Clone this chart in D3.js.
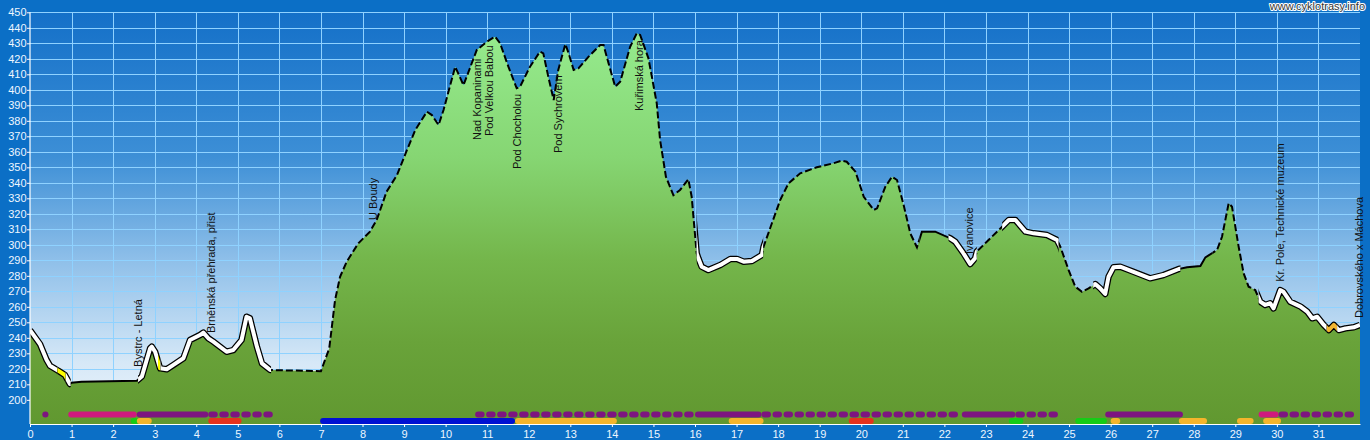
<!DOCTYPE html>
<html><head><meta charset="utf-8">
<script src="https://cdn.jsdelivr.net/npm/d3@7"></script>
<style>
html,body{margin:0;padding:0;background:#0b6fc6;}
svg{display:block;}
</style></head>
<body><svg id="c" width="1370" height="440"></svg>
<script>
// ---- data ----
const km = [0,0.24,0.4,0.48,0.68,0.84,0.96,1.0,1.24,2.57,2.69,2.89,2.93,3.01,3.13,3.29,3.45,3.69,3.85,4.09,4.17,4.29,4.41,4.73,4.89,5.09,5.21,5.29,5.46,5.58,5.78,7.0,7.2,7.34,7.46,7.62,7.9,8.18,8.34,8.58,8.83,9.07,9.27,9.55,9.67,9.83,9.95,10.23,10.43,10.75,10.99,11.19,11.31,11.51,11.71,11.79,12.03,12.27,12.35,12.47,12.6,12.71,12.88,12.96,13.08,13.2,13.44,13.72,13.8,13.92,14.08,14.2,14.44,14.6,14.68,14.88,15.08,15.16,15.3,15.48,15.64,15.84,15.92,16.04,16.08,16.16,16.32,16.61,16.85,17.01,17.17,17.37,17.61,17.65,17.85,18.05,18.25,18.53,18.93,19.33,19.53,19.65,19.86,20.06,20.3,20.38,20.58,20.74,20.86,21.02,21.18,21.34,21.46,21.78,22.14,22.26,22.46,22.62,22.74,22.78,23.02,23.39,23.55,23.71,23.95,24.15,24.47,24.71,24.79,24.99,25.15,25.31,25.47,25.63,25.75,25.87,25.95,26.07,26.23,26.55,26.95,27.27,27.64,27.84,28.16,28.28,28.56,28.68,28.84,28.92,29.08,29.2,29.32,29.48,29.6,29.72,29.84,29.92,30.08,30.16,30.32,30.57,30.73,30.85,30.97,31.13,31.25,31.37,31.49,31.65,31.85,32.0];
const elevation = [245,236,225.7,222,218.8,216,210.2,211,211.7,212.3,215,233.2,234.3,231,220.3,219.7,222.5,226.8,238.6,241.8,243.3,239.7,237.5,231,232.1,238.6,253.6,252.6,234.3,223.5,219.2,218.5,233.2,264.4,279.4,289.1,301,308.5,316,334.3,345,361.2,374.1,385.9,383.7,377.3,387,414.9,403,425.7,431,434.3,430,414.9,401,402,414.9,424.6,423.5,408.5,393.4,412.8,429.5,423.5,412.8,413.9,421.4,428.9,428.9,417.1,402,405.2,427.8,436.5,435.4,420.3,391.3,367.6,344,332,335.4,342.3,331,294.5,291.3,285.9,283.7,287,290.9,290.9,289.1,289.6,293.4,298.8,313.9,328.9,339.7,346.1,350,352.6,354.3,353.6,347.2,331,322.5,323.5,337.5,343.9,341.8,325.7,307.4,298.4,308.5,308.5,304.2,302,294.5,287.6,291.3,295.6,302,311.7,316,316,308.5,307.4,306.3,303.1,298.8,283.7,273,269.7,271.9,274.7,271.9,268.3,279.4,285.5,285.9,282.6,278.4,280.5,284.4,285.5,286.3,291.9,296.6,305.2,326.8,324.6,298.8,281.6,273,270.8,263.3,261.2,262.3,259,270.8,269.7,263.3,260.1,256.9,252.6,253.6,248.3,245,248.3,245,246.1,246.8,248.3];

// line style segments along the profile: [from km, to km, kind]
const lineFrom = [0,0.66,0.86,0.98,2.6,3.08,3.14,5.8,16.04,17.64,21.4,22.1,22.78,23.39,24.75,25.58,27.68,28.45,29.56,31.2,31.45];
const lineTo   = [0.66,0.86,0.98,2.6,3.08,3.14,5.8,16.04,17.64,21.4,22.1,22.78,23.39,24.75,25.58,27.68,28.45,29.56,31.2,31.45,32];
const lineKind = ["white","yellow","white","solid","white","yellow","white","dash","white","dash","solid","white","dash","white","dash","white","solid","dash","white","orange","white"];

// surface bars, row 1
const bar1From = [0.3,0.92,2.57,4.29,10.71,16.0,17.6,22.42,23.71,25.87,29.56,30.04];
const bar1To   = [0.44,2.57,4.29,5.86,16.0,17.6,22.42,23.71,24.75,27.74,30.04,32.0];
const bar1Kind = ["dot","magenta","purple","dot","dot","purple","dot","purple","dot","purple","magenta","dot"];
// surface bars, row 2
const bar2From = [2.47,2.57,4.29,6.98,11.67,16.81,19.7,23.55,25.15,26.0,27.64,29.04,29.67];
const bar2To   = [2.57,2.93,5.09,11.67,14.12,17.65,20.3,23.9,25.91,26.23,28.32,29.44,30.1];
const bar2Kind = ["green","orange","red","blue","orange","orange","red","green","green","orange","orange","orange","orange"];

// place names
const placeNames = ["Bystrc - Letná","Brněnská přehrada, přist","U Boudy","Nad Kopaninami","Pod Velkou Babou","Pod Chocholou","Pod Sychrovem","Kuřimská hora","Ivanovice","Kr. Pole, Technické muzeum","Dobrovského x Máchova"];
const placeKm = [2.70,4.45,8.35,10.85,11.14,11.82,12.8,14.75,22.70,30.16,32.08];
const placeElev = [221.2,243.1,316,367.6,370.2,348.9,359.2,386.3,294.1,276.1,252.8];

const xTicks = d3.range(0,32,1);
const yTicks = d3.range(200,451,10);
const watermark = "www.cyklotrasy.info";

// ---- drawing ----
const svg = d3.select("#c");
const X0=30, X1=1360, Y0=12.3, Y1=424;
const x = d3.scaleLinear().domain([0,32]).range([X0,X1]);
const y = d3.scaleLinear().domain([184.4,450]).range([Y1,Y0]);

const defs = svg.append("defs");
const sky = defs.append("linearGradient").attr("id","sky").attr("gradientUnits","userSpaceOnUse")
  .attr("x1",0).attr("x2",0).attr("y1",Y0).attr("y2",Y1);
[[0,"#1470c8"],[0.35,"#3d8fd6"],[0.6,"#8ebfe9"],[0.85,"#d6e8f7"],[1,"#f0f6fc"]].forEach(s=>sky.append("stop").attr("offset",s[0]).attr("stop-color",s[1]));
const grass = defs.append("linearGradient").attr("id","grass").attr("gradientUnits","userSpaceOnUse")
  .attr("x1",0).attr("x2",0).attr("y1",Y0).attr("y2",Y1);
[[0,"#98ee92"],[0.35,"#86d673"],[0.6,"#74b64b"],[0.8,"#69a33a"],[1,"#619830"]].forEach(s=>grass.append("stop").attr("offset",s[0]).attr("stop-color",s[1]));

defs.append("clipPath").attr("id","plotclip").append("rect")
  .attr("x",X0).attr("y",Y0-4).attr("width",X1-X0).attr("height",Y1-Y0+4);

svg.append("rect").attr("x",X0).attr("y",Y0).attr("width",X1-X0).attr("height",Y1-Y0).attr("fill","url(#sky)");

// grid
const grid = svg.append("g").attr("stroke","#8fd2ff").attr("stroke-width",1);
grid.selectAll("line.h").data(yTicks).join("line").attr("class","h")
  .attr("x1",X0).attr("x2",X1).attr("y1",d=>Math.round(y(d))+0.5).attr("y2",d=>Math.round(y(d))+0.5);
grid.selectAll("line.v").data(xTicks.filter(d=>d>0)).join("line").attr("class","v")
  .attr("y1",Y0).attr("y2",Y1).attr("x1",d=>Math.round(x(d))+0.5).attr("x2",d=>Math.round(x(d))+0.5);

const pts = km.map((k,i)=>[k,elevation[i]]);
const area = d3.area().x(d=>x(d[0])).y0(Y1).y1(d=>y(d[1]));
const line = d3.line().x(d=>x(d[0])).y(d=>y(d[1]));

svg.append("path").datum(pts).attr("d",area).attr("fill","url(#grass)");

// profile line segments
const lineG = svg.append("g").attr("clip-path","url(#plotclip)");
lineFrom.forEach((f,i)=>{
  const id="seg"+i;
  defs.append("clipPath").attr("id",id).append("rect")
    .attr("x",x(f)).attr("width",x(lineTo[i])-x(f)).attr("y",0).attr("height",440);
  const g = lineG.append("g").attr("clip-path",`url(#${id})`);
  const k = lineKind[i];
  if(k==="dash"){
    g.append("path").datum(pts).attr("d",line).attr("fill","none").attr("stroke","#000")
      .attr("stroke-width",2).attr("stroke-dasharray","7,3");
  } else if(k==="solid"){
    g.append("path").datum(pts).attr("d",line).attr("fill","none").attr("stroke","#000").attr("stroke-width",2);
  } else {
    const core = k==="white"?"#ffffff":(k==="yellow"?"#ffff00":"#f2b531");
    g.append("path").datum(pts).attr("d",line).attr("fill","none").attr("stroke","#000")
      .attr("stroke-width",6.5).attr("stroke-linejoin","round");
    g.append("path").datum(pts).attr("d",line).attr("fill","none").attr("stroke",core)
      .attr("stroke-width",4).attr("stroke-linejoin","round");
  }
});

// surface bars
const barColor = {purple:"#7d1580",dot:"#7d1580",magenta:"#cf1a7d",green:"#16cc16",orange:"#f4b52c",red:"#e6321c",blue:"#0010d2"};
function drawBars(from,to,kind,yy){
  const g = svg.append("g");
  from.forEach((f,i)=>{
    const k = kind[i];
    const l = g.append("line").attr("x1",x(f)+3).attr("x2",x(to[i])-3).attr("y1",yy).attr("y2",yy)
      .attr("stroke",barColor[k]).attr("stroke-width",6).attr("stroke-linecap","round");
    if(k==="dot") l.attr("stroke-dasharray","3.5,7.5");
  });
}
drawBars(bar1From,bar1To,bar1Kind,414.5);
drawBars(bar2From,bar2To,bar2Kind,421);

// axes
const ax = svg.append("g").attr("transform",`translate(0,${Y1})`)
  .call(d3.axisBottom(x).tickValues(xTicks).tickSize(3).tickSizeOuter(0).tickPadding(3).tickFormat(d3.format("d")));
const ay = svg.append("g").attr("transform",`translate(${X0},0)`)
  .call(d3.axisLeft(y).tickValues(yTicks).tickSize(3).tickSizeOuter(0).tickPadding(0.5).tickFormat(d3.format("d")));
[ax,ay].forEach(a=>{
  a.select(".domain").attr("stroke","#ffffff").attr("stroke-width",1.2);
  a.selectAll(".tick line").attr("stroke","#ffffff");
  a.selectAll(".tick text").attr("fill","#eef6ff").attr("font-family","'Liberation Sans', Arial, sans-serif").attr("font-size","11px");
});
ay.select(".domain").attr("d",`M0,${Y0}V${Y1}`);

// place labels
svg.append("g").selectAll("text").data(placeNames).join("text")
  .attr("transform",(d,i)=>`translate(${x(placeKm[i])},${y(placeElev[i])}) rotate(-90)`)
  .attr("font-family","'Liberation Sans', Arial, sans-serif").attr("font-size","11px")
  .attr("fill","#111").text(d=>d);

// watermark
svg.append("text").attr("x",1365).attr("y",10).attr("text-anchor","end")
  .attr("font-family","'Liberation Sans', Arial, sans-serif").attr("font-size","11px")
  .attr("fill","#333").attr("stroke","#ffffff").attr("stroke-width",2).attr("paint-order","stroke")
  .attr("stroke-linejoin","round").text(watermark);
</script></body></html>
